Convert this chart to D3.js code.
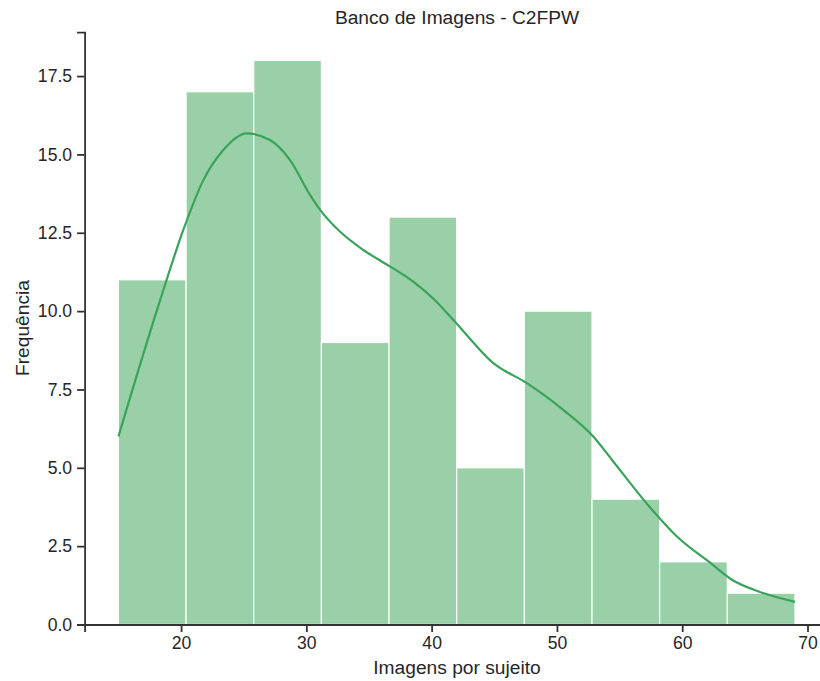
<!DOCTYPE html>
<html>
  <head>
    <meta charset="utf-8">
    <title>Banco de Imagens - C2FPW</title>
    <script src="https://cdn.jsdelivr.net/npm/d3@7"></script>
    <style>
      body { margin: 0; background: #fff; }
      text { font-family: Arial, "Liberation Sans", sans-serif; fill: #262626; }
    </style>
  </head>
  <body>
    <svg width="820" height="681" id="mainsvg"></svg>
    <script>
        // histogram bins (edges) and counts
        const binEdges = [15, 20.4, 25.8, 31.2, 36.6, 42, 47.4, 52.8, 58.2, 63.6, 69];
        const counts = [11, 17, 18, 9, 13, 5, 10, 4, 2, 1];

        // kde curve
        const kdeX = [15.0, 18.33, 20.18, 21.78, 23.37, 25.24, 27.1, 28.7, 30.3, 31.1, 32.7,
                      34.55, 36.7, 38.5, 40.1, 42.0, 44.9, 47.6, 50.5, 52.9, 54.4, 57.4,
                      59.6, 62.2, 64.0, 66.2, 69.0];
        const kdeY = [6.0, 10.35, 12.59, 14.18, 15.14, 15.67, 15.46, 14.82, 13.7, 13.23, 12.53,
                      11.95, 11.42, 10.95, 10.41, 9.6, 8.35, 7.7, 6.85, 6.0, 5.25, 3.75,
                      2.8, 1.98, 1.42, 1.04, 0.72];

        const xTicks = [20, 30, 40, 50, 60, 70];
        const yTicks = [0, 2.5, 5, 7.5, 10, 12.5, 15, 17.5];

        const svg = d3.select('#mainsvg');
        const x = d3.scaleLinear().domain([12.3, 71.7]).range([84.6, 828.8]);
        const y = d3.scaleLinear().domain([0, 18.9]).range([624.5, 32.2]);

        // bars
        svg.append('g').selectAll('rect')
            .data(counts)
            .enter().append('rect')
            .attr('x', (d, i) => x(binEdges[i]))
            .attr('width', (d, i) => x(binEdges[i + 1]) - x(binEdges[i]))
            .attr('y', d => y(d))
            .attr('height', d => y(0) - y(d))
            .attr('fill', '#99d0a8')
            .attr('stroke', '#ffffff')
            .attr('stroke-width', 1.2);

        // kde line
        const line = d3.line()
            .x((d, i) => x(kdeX[i]))
            .y(d => y(d))
            .curve(d3.curveMonotoneX);
        svg.append('path')
            .datum(kdeY)
            .attr('d', line)
            .attr('fill', 'none')
            .attr('stroke', '#3aa35b')
            .attr('stroke-width', 2.2);

        // axes
        const xAxis = svg.append('g')
            .attr('transform', `translate(0, ${y(0)})`)
            .call(d3.axisBottom(x).tickValues(xTicks).tickSize(7.5).tickPadding(5).tickFormat(d3.format('d')));
        const yAxis = svg.append('g')
            .attr('transform', `translate(${x(12.3)}, 0)`)
            .call(d3.axisLeft(y).tickValues(yTicks).tickSize(7.5).tickPadding(5).tickFormat(d3.format('.1f')));

        [xAxis, yAxis].forEach(a => {
            a.select('.domain').attr('stroke', '#333').attr('stroke-width', 1.8);
            a.selectAll('.tick line').attr('stroke', '#333').attr('stroke-width', 1.8);
            a.selectAll('.tick text').attr('font-size', 17.6).style('fill', '#262626')
              .attr('font-family', 'Arial, "Liberation Sans", sans-serif');
        });

        // title and labels
        svg.append('text')
            .attr('x', 457).attr('y', 23.5)
            .attr('text-anchor', 'middle')
            .attr('font-size', 19.2)
            .text('Banco de Imagens - C2FPW');

        svg.append('text')
            .attr('x', 457).attr('y', 674)
            .attr('text-anchor', 'middle')
            .attr('font-size', 19.2)
            .text('Imagens por sujeito');

        svg.append('text')
            .attr('transform', 'translate(29, 328) rotate(-90)')
            .attr('text-anchor', 'middle')
            .attr('font-size', 19.2)
            .text('Frequência');
    </script>
  </body>
</html>
